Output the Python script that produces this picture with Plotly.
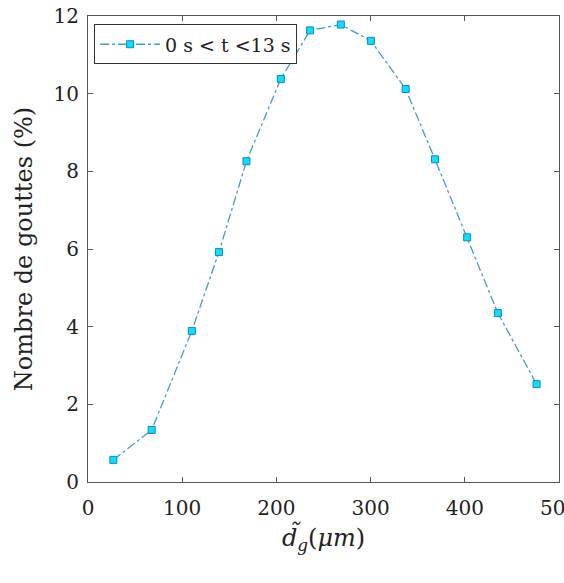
import plotly.graph_objects as go

diameter_um = [26.9, 67.6, 110.2, 139.0, 168.2, 204.7, 235.8, 268.4, 300.3, 337.2, 368.3, 402.5, 435.1, 476.2]
pct_drops = [0.57, 1.34, 3.89, 5.92, 8.26, 10.38, 11.63, 11.78, 11.36, 10.12, 8.31, 6.30, 4.35, 2.52]
series_name = "0 s < t <13 s"
x_ticks = [0, 100, 200, 300, 400, 500]
y_ticks = [0, 2, 4, 6, 8, 10, 12]

font_family = "DejaVu Serif"

fig = go.Figure()
fig.add_trace(go.Scatter(
    x=diameter_um, y=pct_drops, mode="lines+markers", name=series_name,
    line=dict(color="#3a9de0", width=1.3, dash="dashdot"),
    marker=dict(symbol="square", size=7, color="#00e5ff",
                line=dict(color="#1e7fc8", width=1)),
))

axis_common = dict(
    showline=True, linecolor="#555555", linewidth=1, mirror="ticks",
    ticks="inside", ticklen=5, tickcolor="#555555", showgrid=False, zeroline=False,
    tickfont=dict(family=font_family, size=20, color="#222222"),
    ticklabeloverflow="allow", automargin=False,
)

fig.update_layout(
    width=564, height=583,
    margin=dict(l=88, r=5, t=16, b=101),
    paper_bgcolor="white", plot_bgcolor="white",
    font=dict(family=font_family, color="#222222"),
    xaxis=dict(range=[0, 500], tickvals=x_ticks, **axis_common, ticklabelstandoff=8,
               title=dict(text="<i>d̃</i><sub><i>g</i></sub>(<i>μm</i>)",
                          font=dict(family=font_family, size=24), standoff=10)),
    yaxis=dict(range=[0, 12], tickvals=y_ticks, **axis_common, ticklabelstandoff=4,
               title=dict(text="Nombre de gouttes (%)",
                          font=dict(family=font_family, size=24), standoff=14)),
    legend=dict(x=0.013, y=0.982, xanchor="left", yanchor="top",
                bgcolor="white", bordercolor="#333333", borderwidth=1,
                font=dict(family=font_family, size=19, color="#222222"),
                itemwidth=60),
    showlegend=True,
)

fig.write_html("out.html", post_script="document.body.style.margin='0';",
               config={"displayModeBar": False})
